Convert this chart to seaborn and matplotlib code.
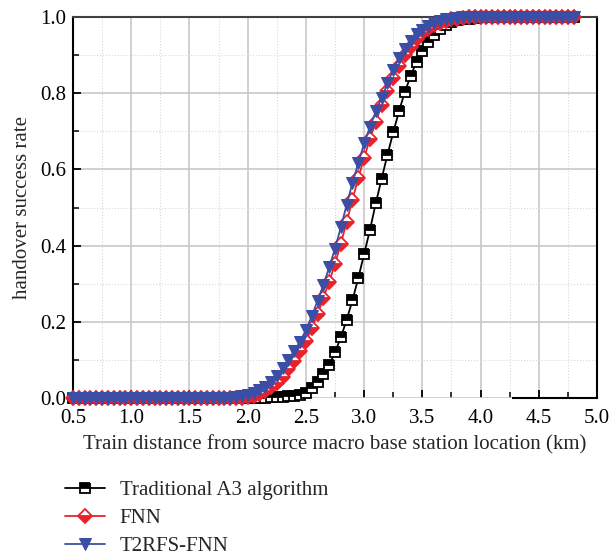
import matplotlib
matplotlib.use('Agg')
import matplotlib.pyplot as plt
import seaborn as sns
from matplotlib.ticker import MultipleLocator

# distance (km), one sample every 0.05 km
distance = [0.50, 0.55, 0.60, 0.65, 0.70, 0.75, 0.80, 0.85, 0.90, 0.95,
            1.00, 1.05, 1.10, 1.15, 1.20, 1.25, 1.30, 1.35, 1.40, 1.45,
            1.50, 1.55, 1.60, 1.65, 1.70, 1.75, 1.80, 1.85, 1.90, 1.95,
            2.00, 2.05, 2.10, 2.15, 2.20, 2.25, 2.30, 2.35, 2.40, 2.45,
            2.50, 2.55, 2.60, 2.65, 2.70, 2.75, 2.80, 2.85, 2.90, 2.95,
            3.00, 3.05, 3.10, 3.15, 3.20, 3.25, 3.30, 3.35, 3.40, 3.45,
            3.50, 3.55, 3.60, 3.65, 3.70, 3.75, 3.80, 3.85, 3.90, 3.95,
            4.00, 4.05, 4.10, 4.15, 4.20, 4.25, 4.30, 4.35, 4.40, 4.45,
            4.50, 4.55, 4.60, 4.65, 4.70, 4.75, 4.80]

a3_rate = [0.0, 0.0, 0.0, 0.0, 0.0, 0.0, 0.0, 0.0, 0.0, 0.0,
           0.0, 0.0, 0.0, 0.0, 0.0, 0.0, 0.0, 0.0, 0.0, 0.0,
           0.0, 0.0, 0.0, 0.0, 0.0, 0.0, 0.0, 0.0, 0.0, 0.0,
           0.0, 0.0, 0.0, 0.001, 0.002, 0.002, 0.003, 0.004, 0.005, 0.007,
           0.012, 0.025, 0.043, 0.063, 0.087, 0.120, 0.159, 0.205, 0.257, 0.315,
           0.378, 0.441, 0.511, 0.575, 0.638, 0.697, 0.753, 0.804, 0.845, 0.883,
           0.912, 0.935, 0.954, 0.969, 0.978, 0.986, 0.991, 0.994, 0.996, 0.998,
           0.999, 1.0, 1.0, 1.0, 1.0, 1.0, 1.0, 1.0, 1.0, 1.0,
           1.0, 1.0, 1.0, 1.0, 1.0, 1.0, 1.0]

fnn_rate = [0.0, 0.0, 0.0, 0.0, 0.0, 0.0, 0.0, 0.0, 0.0, 0.0,
            0.0, 0.0, 0.0, 0.0, 0.0, 0.0, 0.0, 0.0, 0.0, 0.0,
            0.0, 0.0, 0.0, 0.0, 0.0, 0.0, 0.0, 0.0, 0.0, 0.001,
            0.003, 0.006, 0.011, 0.018, 0.028, 0.040, 0.056, 0.075, 0.098, 0.123,
            0.150, 0.183, 0.220, 0.262, 0.305, 0.352, 0.405, 0.462, 0.520, 0.578,
            0.630, 0.680, 0.725, 0.768, 0.805, 0.840, 0.872, 0.900, 0.922, 0.942,
            0.957, 0.969, 0.978, 0.985, 0.990, 0.994, 0.996, 0.998, 0.999, 1.0,
            1.0, 1.0, 1.0, 1.0, 1.0, 1.0, 1.0, 1.0, 1.0, 1.0,
            1.0, 1.0, 1.0, 1.0, 1.0, 1.0, 1.0]

t2rfs_rate = [0.0, 0.0, 0.0, 0.0, 0.0, 0.0, 0.0, 0.0, 0.0, 0.0,
              0.0, 0.0, 0.0, 0.0, 0.0, 0.0, 0.0, 0.0, 0.0, 0.0,
              0.0, 0.0, 0.0, 0.0, 0.0, 0.0, 0.0, 0.0, 0.002, 0.004,
              0.008, 0.013, 0.020, 0.030, 0.042, 0.057, 0.078, 0.100, 0.124, 0.148,
              0.178, 0.215, 0.255, 0.297, 0.343, 0.392, 0.448, 0.507, 0.565, 0.617,
              0.668, 0.712, 0.752, 0.788, 0.826, 0.862, 0.892, 0.915, 0.937, 0.955,
              0.967, 0.977, 0.985, 0.990, 0.994, 0.996, 0.998, 0.999, 1.0, 1.0,
              1.0, 1.0, 1.0, 1.0, 1.0, 1.0, 1.0, 1.0, 1.0, 1.0,
              1.0, 1.0, 1.0, 1.0, 1.0, 1.0, 1.0]

labels = ['Traditional A3 algorithm', 'FNN', 'T2RFS-FNN']

sns.set_style('white')
plt.rcParams['font.family'] = ['Liberation Serif', 'DejaVu Serif']
FS = 15

fig = plt.figure(figsize=(6.10, 5.59), dpi=100)
ax = fig.add_axes([0.1197, 0.288, 0.859, 0.6816])

# Traditional A3 (black half filled squares)
sns.lineplot(x=distance, y=a3_rate, ax=ax, color='black', lw=1.3,
             marker='s', markersize=7, fillstyle='top', markerfacecolor='black',
             markerfacecoloralt='white', markeredgecolor='black', markeredgewidth=1.3,
             label=labels[0], clip_on=False, zorder=3)
# FNN (red half filled diamonds)
sns.lineplot(x=distance, y=fnn_rate, ax=ax, color='#e8212b', lw=1.3,
             marker='D', markersize=6.8, fillstyle='bottom', markerfacecolor='#e8212b',
             markerfacecoloralt='white', markeredgecolor='#e8212b', markeredgewidth=1.3,
             label=labels[1], clip_on=False, zorder=4)
# T2RFS-FNN (blue triangles)
sns.lineplot(x=distance, y=t2rfs_rate, ax=ax, color='#3b4ea6', lw=1.3,
             marker='v', markersize=8.5, markerfacecolor='#3b4ea6',
             markeredgecolor='#3b4ea6', label=labels[2], clip_on=False, zorder=5)

ax.set_xlim(0.5, 5.0)
ax.set_ylim(0.0, 1.0)
ax.xaxis.set_major_locator(MultipleLocator(0.5))
ax.xaxis.set_minor_locator(MultipleLocator(0.25))
ax.yaxis.set_major_locator(MultipleLocator(0.2))
ax.yaxis.set_minor_locator(MultipleLocator(0.1))
ax.xaxis.set_major_formatter(plt.FormatStrFormatter('%.1f'))
ax.yaxis.set_major_formatter(plt.FormatStrFormatter('%.1f'))

ax.grid(which='major', color='#c8c8c8', lw=1.2, ls='-')
ax.grid(which='minor', color='#d8d8d8', lw=0.8, ls=':')
ax.set_axisbelow(True)

ax.tick_params(which='both', direction='in', colors='black', labelsize=FS,
               bottom=True, left=True, top=False, right=False)
ax.tick_params(which='major', length=6, width=1.3, pad=5)
ax.tick_params(axis='x', which='major', pad=8)
ax.tick_params(which='minor', length=4, width=1.1)

for side in ['left', 'right', 'top', 'bottom']:
    ax.spines[side].set_visible(True)
    ax.spines[side].set_linewidth(1.5)
    ax.spines[side].set_color('black')
ax.spines['top'].set_color('#404040')
ax.spines['bottom'].set_bounds(4.28, 5.0)

ax.set_xlabel('Train distance from source macro base station location (km)', fontsize=FS, labelpad=5)
ax.set_ylabel('handover success rate', fontsize=FS, labelpad=6)

handles, labs = ax.get_legend_handles_labels()
ax.legend_.remove()
fig.legend(handles, labs, loc='upper left', bbox_to_anchor=(0.093, 0.155),
           frameon=False, fontsize=FS, handlelength=1.9, labelspacing=0.4,
           handletextpad=0.72, borderaxespad=0)

fig.savefig('out.png', dpi=100)
